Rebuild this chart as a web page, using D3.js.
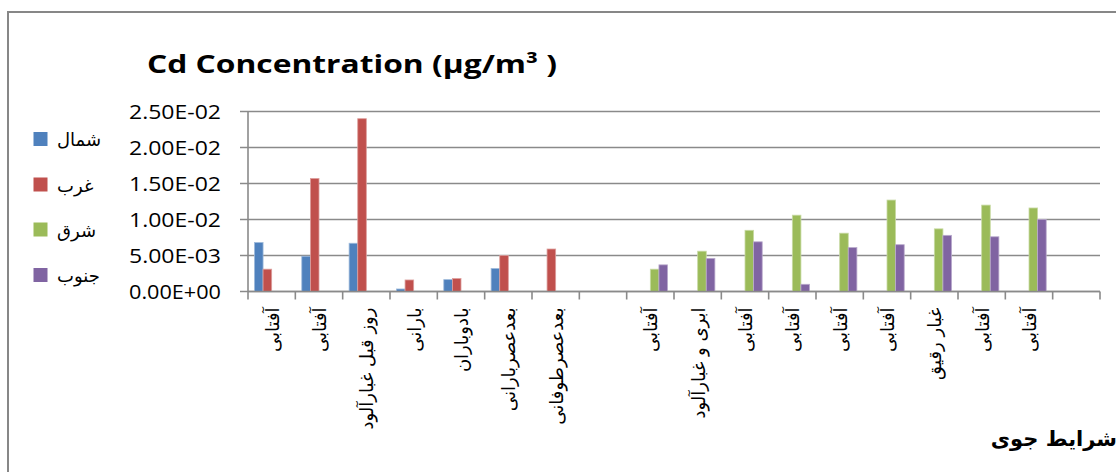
<!DOCTYPE html>
<html>
<head>
<meta charset="utf-8">
<script src="https://cdn.jsdelivr.net/npm/d3@7/dist/d3.min.js"></script>
<style>
  html, body { margin: 0; padding: 0; background: #fff; }
  svg { display: block; }
</style>
</head>
<body>
<script>
// Weather conditions along the x axis (empty strings are spacer columns)
const categories = [
  "آفتابی", "آفتابی", "روز قبل  غبارآلود", "بارانی", "بادوباران",
  "بعدعصربارانی", "بعدعصرطوفانی", "",
  "آفتابی", "ابری و  غبارآلود", "آفتابی", "آفتابی", "آفتابی",
  "آفتابی", "غبار رقیق", "آفتابی", "آفتابی", ""
];

// Series names (legend)
const seriesNames = ["شمال", "غرب", "شرق", "جنوب"];

// Cd concentration per station direction (µg/m³), null where not measured
const north = [0.0068, 0.0049, 0.0067, 0.00035, 0.00165, 0.0032, null, null,
               null, null, null, null, null, null, null, null, null, null];
const west  = [0.0031, 0.0157, 0.0240, 0.0016, 0.0018, 0.0050, 0.0059, null,
               null, null, null, null, null, null, null, null, null, null];
const east  = [null, null, null, null, null, null, null, null,
               0.0031, 0.0056, 0.0085, 0.0106, 0.0081, 0.0127, 0.0087, 0.0120, 0.0116, null];
const south = [null, null, null, null, null, null, null, null,
               0.0037, 0.0046, 0.0069, 0.0010, 0.0061, 0.0065, 0.0078, 0.0076, 0.0100, null];

// Value axis ticks
const yTicks = [0, 0.005, 0.010, 0.015, 0.020, 0.025];

const titleText = "Cd Concentration (µg/m³ )";
const xAxisTitle = "شرایط جوی";

const seriesValues = [north, west, east, south];
const colors = ["#4F81BD", "#C0504D", "#9BBB59", "#8064A2"];

const W = 1116, H = 472;
const plot = { left: 248, right: 1100, top: 111.5, bottom: 291.5 };

const svg = d3.select("body").append("svg")
  .attr("width", W).attr("height", H);

// Outer chart frame (extends past the visible canvas on right and bottom)
svg.append("path")
  .attr("d", `M8,${H + 10} L8,12 L${W + 10},12`)
  .attr("fill", "none").attr("stroke", "#878787").attr("stroke-width", 2);

const idx = categories.map((_, i) => i);
const x0 = d3.scaleBand().domain(idx).range([plot.left, plot.right]).padding(0);
const x1 = d3.scaleBand().domain(d3.range(seriesNames.length))
  .range([0, x0.bandwidth()]).paddingInner(0).paddingOuter(0.75);
const y = d3.scaleLinear().domain([0, 0.025]).range([plot.bottom, plot.top]);

// Excel-style scientific format: 2.50E-02
function sci(v) {
  if (v === 0) return "0.00E+00";
  const s = v.toExponential(2);
  const [m, e] = s.split("e");
  const n = +e;
  const sign = n < 0 ? "-" : "+";
  return m + "E" + sign + String(Math.abs(n)).padStart(2, "0");
}

// Horizontal gridlines
svg.append("g").selectAll("line").data(yTicks).join("line")
  .attr("x1", plot.left - 8).attr("x2", plot.right)
  .attr("y1", d => y(d)).attr("y2", d => y(d))
  .attr("stroke", "#8a8a8a").attr("stroke-width", 1.6);

// Value axis line
svg.append("line")
  .attr("x1", plot.left).attr("x2", plot.left)
  .attr("y1", plot.top).attr("y2", plot.bottom)
  .attr("stroke", "#8a8a8a").attr("stroke-width", 1.6);

// Value axis labels
svg.append("g").selectAll("text").data(yTicks).join("text")
  .attr("x", 221).attr("y", d => y(d) + 7.5)
  .attr("text-anchor", "end")
  .attr("font-family", "'Open Sans', 'Liberation Sans', sans-serif")
  .attr("font-size", 19.5)
  .attr("fill", "#000")
  .attr("textLength", 92).attr("lengthAdjust", "spacingAndGlyphs")
  .text(d => sci(d));

// Bars
const bars = [];
seriesValues.forEach((arr, s) => {
  arr.forEach((v, i) => { if (v != null) bars.push({ s, i, v }); });
});
svg.append("g").selectAll("rect").data(bars).join("rect")
  .attr("x", d => x0(d.i) + x1(d.s))
  .attr("width", x1.bandwidth())
  .attr("y", d => y(d.v))
  .attr("height", d => y(0) - y(d.v))
  .attr("fill", d => colors[d.s])
  .attr("stroke", d => d3.interpolateRgb(colors[d.s], "#fff")(0.45))
  .attr("stroke-width", 0.8);

// Category axis line and tick marks
svg.append("line")
  .attr("x1", plot.left).attr("x2", plot.right)
  .attr("y1", plot.bottom).attr("y2", plot.bottom)
  .attr("stroke", "#8a8a8a").attr("stroke-width", 1.6);
const tickPos = idx.map(i => x0(i)).concat([plot.right]);
svg.append("g").selectAll("line").data(tickPos).join("line")
  .attr("x1", d => d).attr("x2", d => d)
  .attr("y1", plot.bottom).attr("y2", plot.bottom + 8)
  .attr("stroke", "#8a8a8a").attr("stroke-width", 1.6);

// Rotated category labels
svg.append("g").selectAll("text").data(idx.filter(i => categories[i] !== "")).join("text")
  .attr("transform", i => `translate(${x0(i) + x0.bandwidth() / 2 + 7},${plot.bottom + 16}) rotate(-90)`)
  .attr("text-anchor", "end")
  .attr("font-family", "'DejaVu Sans', serif")
  .attr("font-size", 18)
  .attr("fill", "#000")
  .text(i => categories[i]);

// Title
svg.append("text")
  .attr("x", 147).attr("y", 73)
  .attr("font-family", "'Open Sans', 'Liberation Sans', sans-serif")
  .attr("font-weight", "bold")
  .attr("font-size", 25)
  .attr("fill", "#000")
  .attr("textLength", 410).attr("lengthAdjust", "spacingAndGlyphs")
  .text(titleText);

// Legend
const legend = svg.append("g");
const legendTop = [132, 177.5, 222.5, 268];
seriesNames.forEach((name, k) => {
  legend.append("rect")
    .attr("x", 33.5).attr("y", legendTop[k])
    .attr("width", 14).attr("height", 14)
    .attr("fill", colors[k]);
  legend.append("text")
    .attr("x", 57).attr("y", legendTop[k] + 14)
    .attr("font-family", "'DejaVu Sans', serif")
    .attr("font-size", 18)
    .attr("fill", "#000")
    .text(name);
});

// Category axis title
svg.append("text")
  .attr("x", 1117).attr("y", 446)
  .attr("text-anchor", "end")
  .attr("font-family", "'DejaVu Sans', serif")
  .attr("font-weight", "bold")
  .attr("font-size", 21)
  .attr("fill", "#000")
  .text(xAxisTitle);
</script>
</body>
</html>
